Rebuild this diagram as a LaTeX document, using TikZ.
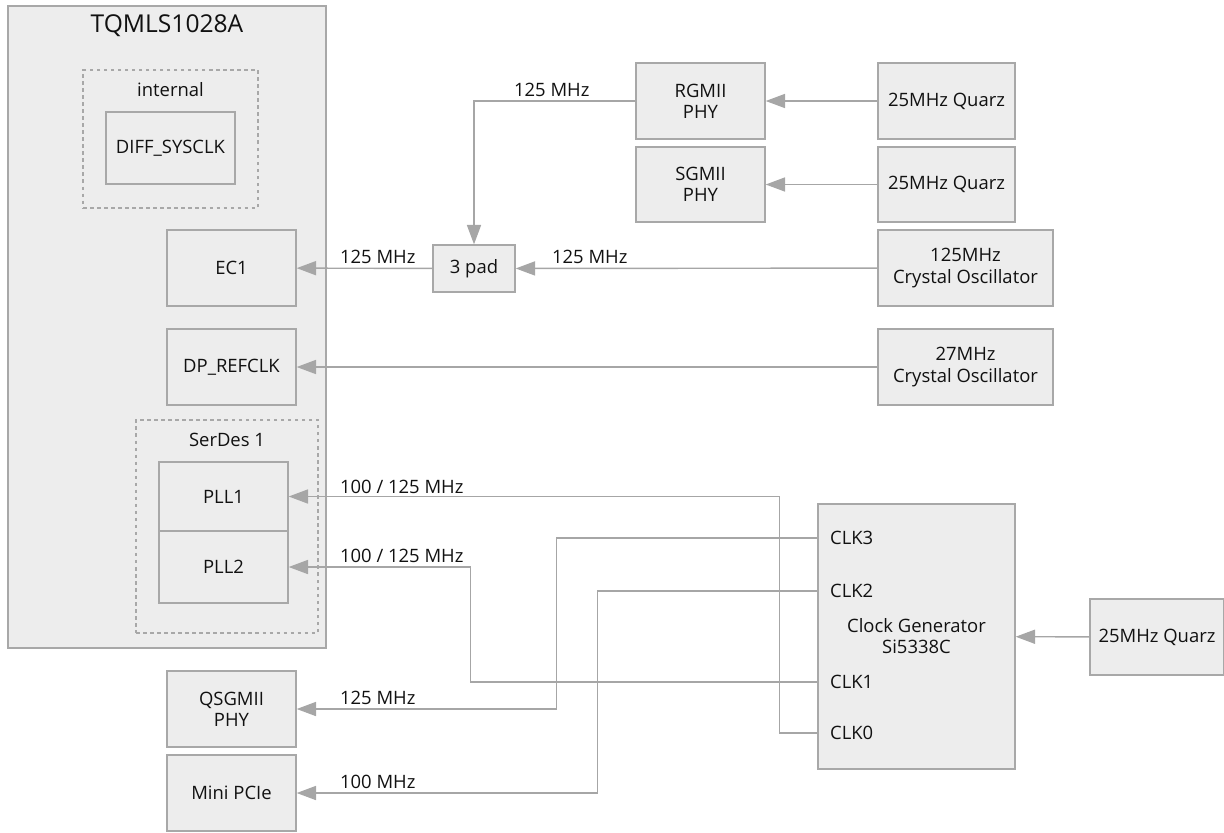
\documentclass[tikz,border=0pt]{standalone}
\usepackage{fontspec}
\setmainfont{Open Sans}
\usetikzlibrary{arrows.meta}
\definecolor{boxfill}{HTML}{EDEDED}
\definecolor{boxline}{HTML}{A8A8A8}
\definecolor{wire}{HTML}{A6A6A6}
\definecolor{ink}{HTML}{111111}
\begin{document}
\begin{tikzpicture}[x=0.02cm,y=-0.02cm,
	font=\fontsize{10.5}{12}\selectfont,
	blk/.style={draw=boxline,fill=boxfill,line width=0.8pt,inner sep=1pt,align=center,text=ink},
	grp/.style={draw=boxline,dashed,line width=0.7pt,dash pattern=on 2pt off 2pt},
	conn/.style={draw=wire,line width=0.8pt,-{Triangle[length=11pt,width=8pt,fill=wire]}},
	lbl/.style={text=ink,inner sep=1pt}]
	\useasboundingbox (0,0) rectangle (1224,832);

	% module
	\node[blk,minimum width=6.36cm,minimum height=12.84cm] (som) at (167,327) {};
	\node[lbl,font=\fontsize{14}{16}\selectfont] (somtitle) at (167,26) {TQMLS1028A};
	\node[grp,minimum width=3.5cm,minimum height=2.76cm] (intern) at (170.5,139) {};
	\node[lbl] (interntitle) at (170.5,90) {internal};
	\node[blk,minimum width=2.58cm,minimum height=1.44cm] (sysclk) at (170.5,148) {DIFF\_SYSCLK};
	\node[blk,minimum width=2.58cm,minimum height=1.52cm] (ec1) at (231.5,268) {EC1};
	\node[blk,minimum width=2.58cm,minimum height=1.52cm] (dpclk) at (231.5,367) {DP\_REFCLK};
	\node[grp,minimum width=3.64cm,minimum height=4.26cm] (serdes) at (227,526.5) {};
	\node[lbl] (serdestitle) at (227,440) {SerDes 1};
	\node[blk,minimum width=2.58cm,minimum height=1.38cm] (pll1) at (223.5,496.5) {PLL1};
	\node[blk,minimum width=2.58cm,minimum height=1.44cm] (pll2) at (223.5,567) {PLL2};

	% outside the module
	\node[blk,minimum width=2.58cm,minimum height=1.52cm] (qsgmii) at (231.5,709) {QSGMII\\PHY};
	\node[blk,minimum width=2.58cm,minimum height=1.52cm] (pcie) at (231.5,793) {Mini PCIe};
	\node[blk,minimum width=1.64cm,minimum height=0.94cm] (pad) at (474,268.5) {3 pad};
	\node[blk,minimum width=2.58cm,minimum height=1.52cm] (rgmii) at (700.5,101) {RGMII\\PHY};
	\node[blk,minimum width=2.58cm,minimum height=1.5cm] (sgmii) at (700.5,184.5) {SGMII\\PHY};
	\node[blk,minimum width=2.74cm,minimum height=1.52cm] (xtalA) at (946.5,101) {25MHz Quarz};
	\node[blk,minimum width=2.74cm,minimum height=1.5cm] (xtalB) at (946.5,184.5) {25MHz Quarz};
	\node[blk,minimum width=3.5cm,minimum height=1.52cm] (osc125) at (965.5,268) {125MHz\\Crystal Oscillator};
	\node[blk,minimum width=3.5cm,minimum height=1.52cm] (osc27) at (965.5,367) {27MHz\\Crystal Oscillator};
	\node[blk,minimum width=3.94cm,minimum height=5.3cm] (clkgen) at (916.5,636.5) {Clock Generator\\Si5338C};
	\node[blk,minimum width=2.68cm,minimum height=1.52cm] (xtalC) at (1157,637) {25MHz Quarz};
	\node[lbl,anchor=west] (clk3) at (828,538) {CLK3};
	\node[lbl,anchor=west] (clk2) at (828,591) {CLK2};
	\node[lbl,anchor=west] (clk1) at (828,682) {CLK1};
	\node[lbl,anchor=west] (clk0) at (828,733) {CLK0};

	% clocks
	\draw[conn] (xtalA) -- (rgmii);
	\draw[conn] (xtalB) -- (sgmii);
	\draw[conn] (rgmii.west) -| (pad.north);
	\draw[conn] (osc125) -- (pad);
	\draw[conn] (pad) -- (ec1);
	\draw[conn] (osc27) -- (dpclk);
	\draw[conn] (xtalC) -- (clkgen);
	\draw[conn] (clkgen.west |- clk0) -- ++(-38,0) |- (pll1.east);
	\draw[conn] (clkgen.west |- clk1) -- ++(-347,0) |- (pll2.east);
	\draw[conn] (clkgen.west |- clk3) -- ++(-261,0) |- (qsgmii.east);
	\draw[conn] (clkgen.west |- clk2) -- ++(-220,0) |- (pcie.east);

	% frequencies
	\node[lbl,anchor=south west] (f1) at (512,99) {125 MHz};
	\node[lbl,anchor=south west] (f2) at (338,266) {125 MHz};
	\node[lbl,anchor=south west] (f3) at (550,266) {125 MHz};
	\node[lbl,anchor=south west] (f4) at (338,496) {100 / 125 MHz};
	\node[lbl,anchor=south west] (f5) at (338,565) {100 / 125 MHz};
	\node[lbl,anchor=south west] (f6) at (338,707) {125 MHz};
	\node[lbl,anchor=south west] (f7) at (338,791) {100 MHz};
\end{tikzpicture}
\end{document}
